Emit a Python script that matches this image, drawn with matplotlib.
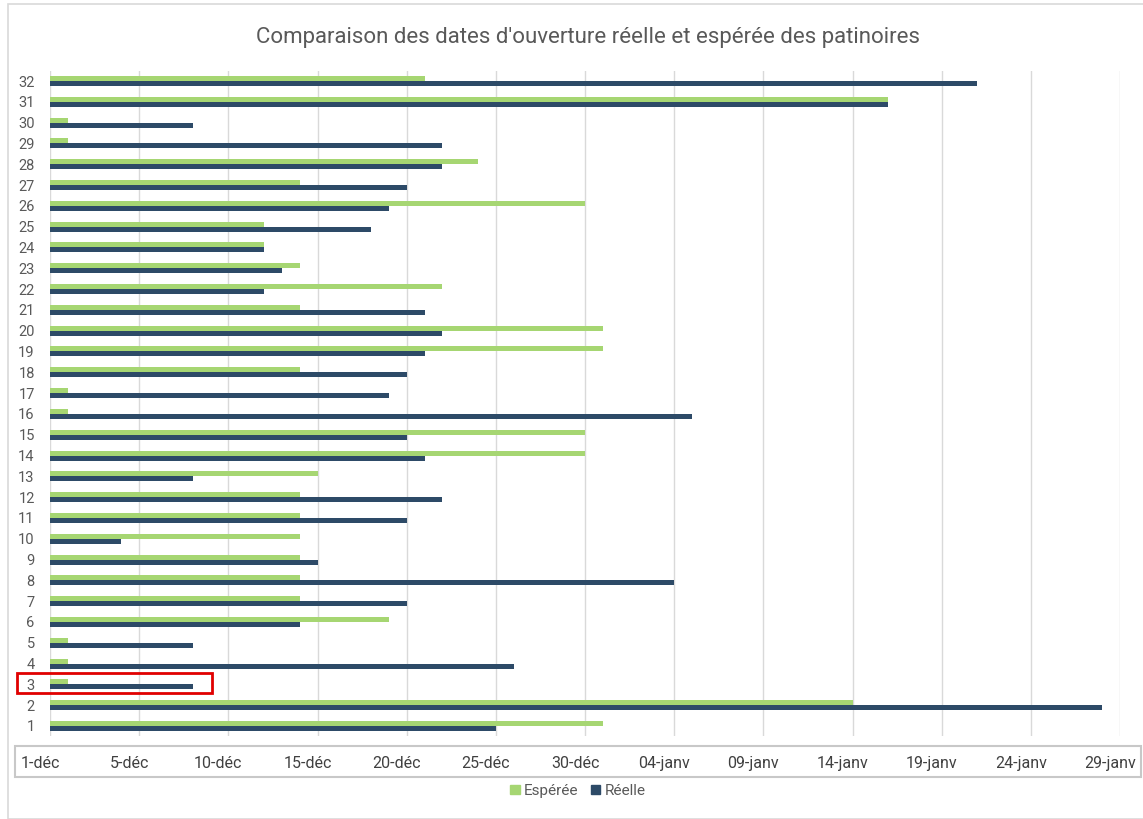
"""
Comparaison des dates d'ouverture (espérée vs réelle) des patinoires.
Barres horizontales groupées, une ligne par patinoire.
"""

import matplotlib
matplotlib.use("Agg")
import matplotlib.pyplot as plt
import matplotlib.transforms as mtransforms
from matplotlib.patches import Rectangle, Patch
import numpy as np

plt.rcParams["font.family"] = ["Roboto", "DejaVu Sans"]

# patinoires 1..32
rinks = list(range(1, 33))

# jours depuis le début de l'axe ("1-déc" = 0)
esperee = [31, 45, 1, 1, 1, 19, 14, 14, 14, 14, 14, 14, 15, 30, 30, 1,
           1, 14, 31, 31, 14, 22, 14, 12, 12, 30, 14, 24, 1, 1, 47, 21]
reelle = [25, 59, 8, 26, 8, 14, 20, 35, 15, 4, 20, 22, 8, 21, 20, 36,
          19, 20, 21, 22, 21, 12, 13, 12, 18, 19, 20, 22, 22, 8, 47, 52]

tick_days = list(range(0, 61, 5))
tick_labels = ["1-déc", "5-déc", "10-déc", "15-déc", "20-déc", "25-déc", "30-déc",
               "04-janv", "09-janv", "14-janv", "19-janv", "24-janv", "29-janv"]

GREEN = "#A6D672"
NAVY = "#2D4A67"
TXT = "#595959"

W, H = 1143, 819
fig = plt.figure(figsize=(W / 100, H / 100), dpi=100)

# chart area frame
fig.patches.append(Rectangle((8 / W, 0), 1, 1 - 4 / H, transform=fig.transFigure,
                             fill=False, edgecolor="#D9D9D9", lw=1.2))

ax = fig.add_axes([50 / W, 1 - 736.4 / H, 1070 / W, 665.8 / H])

y = np.array(rinks)
h = 0.24
ax.barh(y + h / 2, esperee, height=h, color=GREEN, label="Espérée")
ax.barh(y - h / 2, reelle, height=h, color=NAVY, label="Réelle")

ax.set_xlim(0, 60)
ax.set_ylim(0.5, 32.5)
ax.set_yticks(rinks)
ax.set_yticklabels([str(r) for r in rinks], fontsize=10.5, color=TXT)
ax.set_xticks(tick_days)
ax.set_xticklabels(tick_labels, fontsize=11.5, color="#404040")
ax.tick_params(axis="y", length=0, pad=11)
ax.tick_params(axis="x", length=0, pad=14)
offset = mtransforms.ScaledTranslation(-10 / 100, 0, fig.dpi_scale_trans)
for lbl in ax.get_xticklabels():
    lbl.set_transform(lbl.get_transform() + offset)

ax.grid(True, axis="x", color="#D9D9D9", lw=1)
ax.set_axisbelow(True)
for s in ax.spines.values():
    s.set_visible(False)

fig.text(588 / W, 1 - 38 / H, "Comparaison des dates d'ouverture réelle et espérée des patinoires",
         ha="center", va="center", fontsize=16, color=TXT)

# box around the date axis
fig.patches.append(Rectangle((15 / W, 1 - 777 / H), 1126 / W, 31 / H, transform=fig.transFigure,
                             fill=False, edgecolor="#C8C8C8", lw=1.5))

# red highlight around rink 3
fig.patches.append(Rectangle((17 / W, 1 - 693 / H), 195 / W, 20 / H, transform=fig.transFigure,
                             fill=False, edgecolor="#E00000", lw=2, zorder=5))

handles = [Patch(color=GREEN, label="Espérée"), Patch(color=NAVY, label="Réelle")]
fig.legend(handles=handles, loc="center", bbox_to_anchor=(578 / W, 1 - 791 / H), ncol=2,
           frameon=False, fontsize=11, labelcolor=TXT, handlelength=0.6, handleheight=0.6,
           handletextpad=0.3, columnspacing=0.8)

fig.savefig("out.png", dpi=100)
